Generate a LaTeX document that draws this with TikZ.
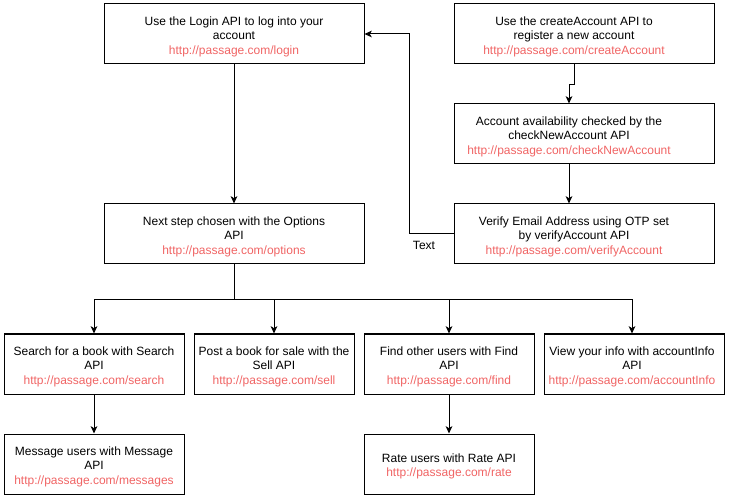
\documentclass[tikz,border=0pt]{standalone}
\usepackage{fontspec}
\setmainfont{Liberation Sans}
\usetikzlibrary{arrows.meta}
\definecolor{urlred}{RGB}{240,100,100}
\newcommand{\urltxt}[1]{\textcolor{urlred}{#1}}
\newcommand{\tpad}{\rule{0pt}{10.5pt}}
\newcommand{\rpad}[1]{\rule{#1}{0pt}}
\begin{document}
\begin{tikzpicture}[x=0.75pt,y=-0.75pt,
  box/.style={draw, line width=0.75pt, align=center, inner sep=0pt,
    minimum height=45pt, font=\fontsize{9}{10.7}\selectfont},
  wide/.style={box, minimum width=195pt},
  narrow/.style={box, minimum width=135pt},
  mid/.style={box, minimum width=127.5pt},
  slim/.style={box, minimum width=120pt},
  conn/.style={line width=0.75pt, -{Stealth[length=5.5pt,width=5pt,inset=1.5pt]}},
  plain/.style={line width=0.75pt}]
\useasboundingbox (0,0) rectangle (729,499);

\node[wide] (login) at (234,34) {\tpad Use the Login API to log into your\\account\\\urltxt{http://passage.com/login}};
\node[wide] (create) at (584,34) {\tpad Use the createAccount API to\rpad{15pt}\\register a new account\rpad{15pt}\\\urltxt{http://passage.com/createAccount}\rpad{15pt}};
\node[wide] (check) at (584,134) {\tpad Account availability checked by the\rpad{22.5pt}\\checkNewAccount API\rpad{22.5pt}\\\urltxt{http://passage.com/checkNewAccount}\rpad{22.5pt}};
\node[wide] (verify) at (584,234) {\tpad Verify Email Address using OTP set\rpad{15pt}\\by verifyAccount API\rpad{15pt}\\\urltxt{http://passage.com/verifyAccount}\rpad{15pt}};
\node[wide] (options) at (234,234) {\tpad Next step chosen with the Options\\API\\\urltxt{http://passage.com/options}};

\node[narrow] (search) at (94,364) {\tpad Search for a book with Search\\API\\\urltxt{http://passage.com/search}};
\node[slim] (sell) at (274,364) {\tpad Post a book for sale with the\\Sell API\\\urltxt{http://passage.com/sell}};
\node[mid] (find) at (449,364) {\tpad Find other users with Find\\API\\\urltxt{http://passage.com/find}};
\node[narrow] (info) at (634,364) {\tpad View your info with accountInfo\rpad{3pt}\\API\rpad{3pt}\\\urltxt{http://passage.com/accountInfo}\rpad{3pt}};

\node[narrow] (msg) at (94,464) {\tpad Message users with Message\\API\\\urltxt{http://passage.com/messages}};
\node[mid] (rate) at (449,464) {\tpad Rate users with Rate API\\\urltxt{http://passage.com/rate}};

% connectors
\draw[conn] (login) -- (options);
\draw[conn] ([xshift=-7.5pt]create.south) -- ++(0,20) -| ([xshift=-11.25pt]check.north);
\draw[conn] ([xshift=-11.25pt]check.south) -- ([xshift=-11.25pt]verify.north);
\draw[conn] (verify.west) -- ++(-44,0) coordinate (bend) |- (login.east);
\node[font=\fontsize{9}{10.7}\selectfont] (lbl) at (424,245) {Text};

\draw[plain] (options.south) -- ++(0,35) coordinate (split);
\draw[conn] (split) -| (search.north);
\draw[conn] (split) -| (sell.north);
\draw[conn] (split) -| (find.north);
\draw[conn] (split) -| ([xshift=-1.5pt]info.north);

\draw[conn] (search) -- (msg);
\draw[conn] (find) -- (rate);
\end{tikzpicture}
\end{document}
